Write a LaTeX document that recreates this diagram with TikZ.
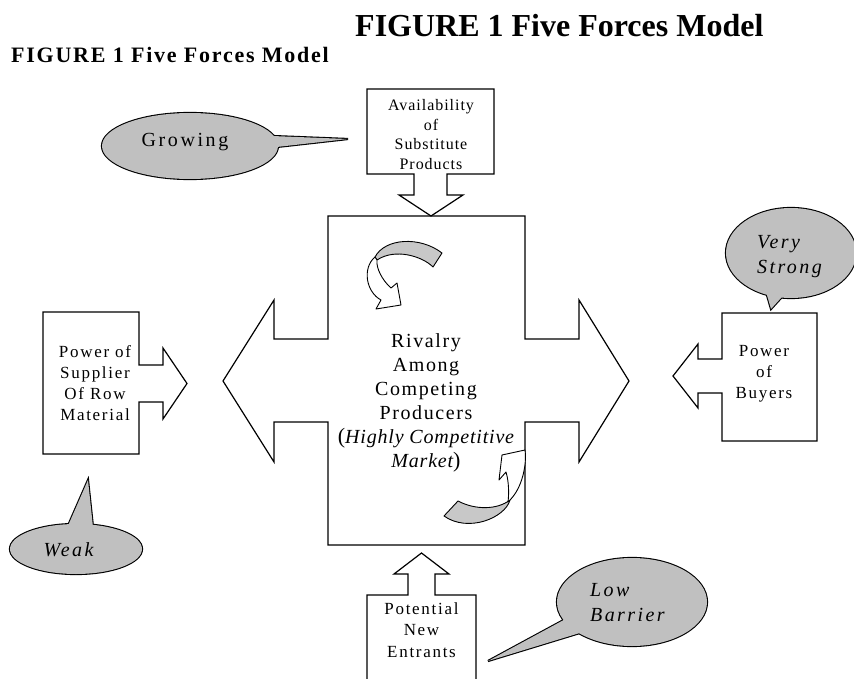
\documentclass[tikz,border=0pt]{standalone}
\usepackage{fontspec}
\setmainfont{Liberation Serif}
\definecolor{calloutgray}{RGB}{192,192,192}
\definecolor{ribbongray}{RGB}{200,200,200}

% speech bubble: ellipse united with a pointed tail, outer outline only
\newcommand\bubble[3]{%
  \draw[line width=2.2pt] #1 ellipse [#2];
  \draw[line width=2.2pt,line join=miter] #3 -- cycle;
  \fill[calloutgray] #1 ellipse [#2];
  \fill[calloutgray] #3 -- cycle;
}

\begin{document}
\begin{tikzpicture}[x=1pt,y=-1pt,
  outl/.style={draw=black,line width=1.2pt,line join=miter,fill=white},
  ribbon/.style={draw=black,line width=0.9pt,line join=round},
  lbl/.style={inner sep=0pt,align=center},
  boxtext/.style={lbl,font={\fontsize{17}{21}\selectfont\addfontfeatures{LetterSpace=10}}},
  bubtext/.style={inner sep=0pt,font={\fontsize{20}{25}\selectfont\itshape\addfontfeatures{LetterSpace=12}}}]
\useasboundingbox (0,0) rectangle (854,679);
\clip (0,0) rectangle (854,679);

% titles
\node[inner sep=0pt,anchor=base west,font={\fontsize{32}{36}\selectfont\bfseries}]
  (title) at (355,37) {FIGURE 1 Five Forces Model};
\node[inner sep=0pt,anchor=base west,font={\fontsize{22}{26}\selectfont\bfseries\addfontfeatures{LetterSpace=8}}]
  (subtitle) at (11,63) {FIGURE 1 Five Forces Model};

% central cross with arrows to left and right
\path[outl] (328,216) -- (525,216) -- (525,339) -- (579,339) -- (579,300) -- (629,381)
  -- (579,462) -- (579,422) -- (525,422) -- (525,545) -- (328,545) -- (328,422)
  -- (274,422) -- (274,462) -- (223,381) -- (274,300) -- (274,339) -- (328,339) -- cycle;

% substitutes box with arrow down
\path[outl] (367,89) -- (494,89) -- (494,174) -- (447,174) -- (447,195) -- (463,195)
  -- (431,216) -- (399,195) -- (414,195) -- (414,174) -- (367,174) -- cycle;

% supplier box with arrow right
\path[outl] (43,312) -- (139,312) -- (139,365) -- (163,365) -- (163,348) -- (187,383.5)
  -- (163,419) -- (163,402) -- (139,402) -- (139,454) -- (43,454) -- cycle;

% buyers box with arrow left
\path[outl] (722,313) -- (817,313) -- (817,441) -- (722,441) -- (722,393) -- (698,393)
  -- (698,408) -- (673,376) -- (698,344) -- (698,359) -- (722,359) -- cycle;

% new entrants box with arrow up (runs off the lower edge)
\path[outl] (367,690) -- (367,595) -- (408,595) -- (408,574) -- (394,574) -- (421.5,553)
  -- (449,574) -- (435,574) -- (435,595) -- (476,595) -- (476,690);

% curved arrow, upper left inside the cross
\path[ribbon,fill=ribbongray] (375,257) .. controls (385,238) and (420,236) .. (442,253)
  -- (433,267) .. controls (422,256) and (395,248) .. (377,260) -- cycle;
\path[ribbon,fill=white] (375,257) .. controls (362,268) and (366,292) .. (381,300)
  -- (376,309) -- (401,305) -- (397,283) -- (391,288)
  .. controls (382,280) and (376,268) .. (377,260) -- cycle;

% curved arrow, lower right inside the cross
\path[ribbon,fill=ribbongray] (444,516) -- (458,501) .. controls (475,510) and (497,510) .. (510,500)
  .. controls (505,518) and (468,533) .. (444,516) -- cycle;
\path[ribbon,fill=white] (510,500) .. controls (522,488) and (527,465) .. (525,450)
  -- (502,455) -- (499,480) -- (506,472)
  .. controls (509,482) and (509,494) .. (508,502) -- cycle;

% speech bubbles
\bubble{(190,146)}{x radius=88,y radius=33}{(348,139) -- (247,135) -- (250,150)}
\bubble{(76,549)}{x radius=66,y radius=25}{(88,480) -- (60,544) -- (95,546)}
\bubble{(632,602)}{x radius=75,y radius=44}{(488,661) -- (584,609) -- (606,625)}
\bubble{(791,253)}{x radius=65,y radius=45}{(771,309) -- (762,278) -- (791,287)}

% labels
\node[lbl,font={\fontsize{16}{19.4}\selectfont\addfontfeatures{LetterSpace=6}}]
  (availtxt) at (431,134.5) {Availability\\of\\Substitute\\Products};
\node[boxtext] (suppliertxt) at (95,383) {Power of\\Supplier\\Of Row\\Material};
\node[boxtext] (buyerstxt) at (764,374) {Power\\of\\Buyers};
\node[boxtext,font={\fontsize{17}{21.5}\selectfont\addfontfeatures{LetterSpace=10}}]
  (entrantstxt) at (421.5,630) {Potential\\New\\Entrants};
\node[lbl,font={\fontsize{20}{24}\selectfont\addfontfeatures{LetterSpace=8}}]
  (rivalrytxt) at (426,403) {Rivalry\\Among\\Competing\\Producers\\%
  {\fontsize{22}{24}\selectfont(}{\itshape\addfontfeatures{LetterSpace=4}Highly Competitive}\\%
  {\itshape\addfontfeatures{LetterSpace=4}Market}{\fontsize{22}{24}\selectfont)}};
\node[inner sep=0pt,font={\fontsize{20}{25}\selectfont\addfontfeatures{LetterSpace=13}}]
  (growingtxt) at (185,142) {Growing};
\node[bubtext] (weaktxt) at (68.5,550) {Weak};
\node[bubtext,anchor=west,align=left] (lowtxt) at (590,602.5) {Low\\Barrier};
\node[bubtext,anchor=west,align=left] (strongtxt) at (757,256.5) {Very\\Strong};
\end{tikzpicture}
\end{document}
